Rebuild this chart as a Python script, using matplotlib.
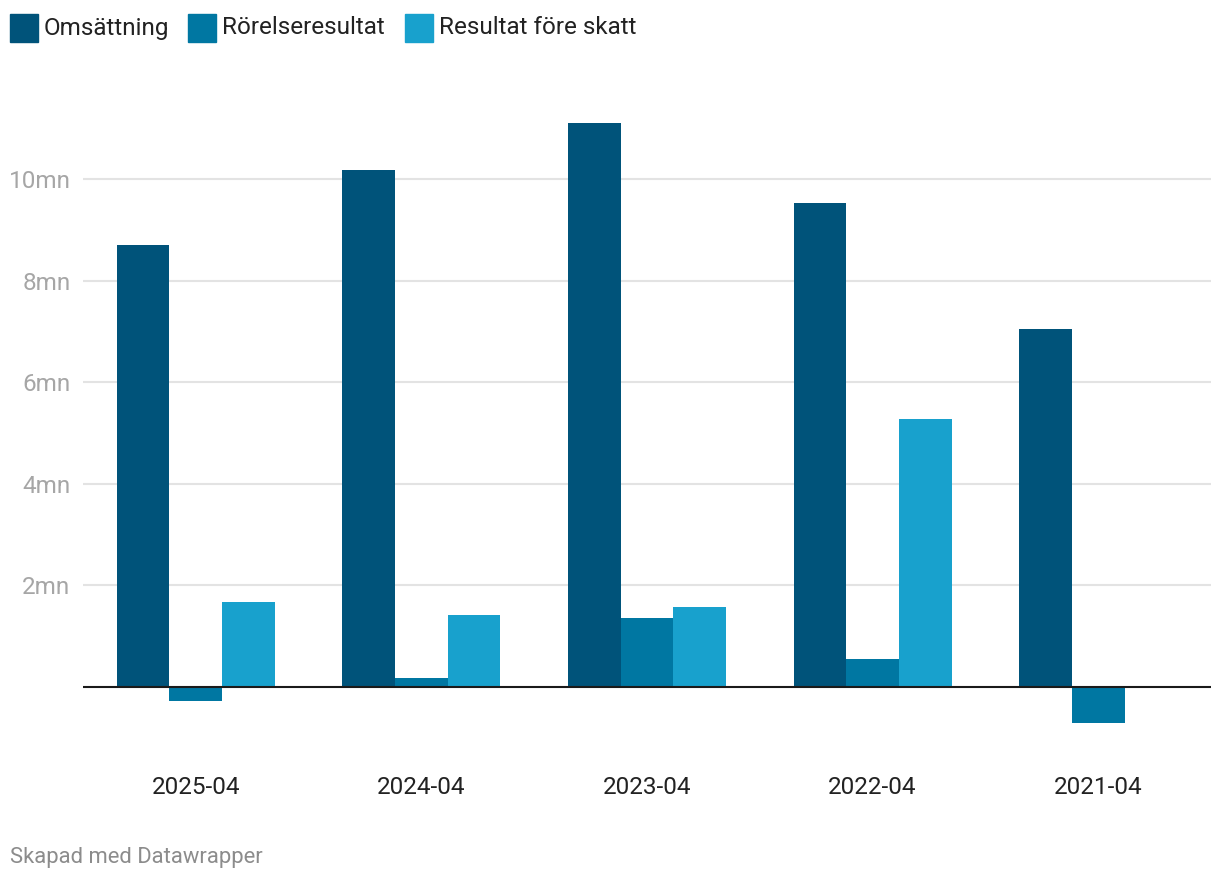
import matplotlib.pyplot as plt
from matplotlib.patches import Rectangle
import numpy as np

plt.rcParams['font.family'] = ['Roboto', 'DejaVu Sans']

# data (millions)
periods = ['2025-04', '2024-04', '2023-04', '2022-04', '2021-04']
omsattning = [8.70, 10.18, 11.10, 9.53, 7.05]
rorelseresultat = [-0.28, 0.18, 1.36, 0.55, -0.71]
resultat_fore_skatt = [1.67, 1.42, 1.57, 5.28, np.nan]
series_names = ['Omsättning', 'Rörelseresultat', 'Resultat före skatt']
colors = ['#00537a', '#0077a2', '#18a1cd']
yticks = [2, 4, 6, 8, 10]

W, H = 1220, 882
fig = plt.figure(figsize=(W / 100, H / 100), dpi=100)

# axes placed in pixel coords: x 83..1211, y 100..750
top_px, bot_px = 100, 750
ax = fig.add_axes([83 / W, 1 - bot_px / H, (1211 - 83) / W, (bot_px - top_px) / H])
zero_px, px_per_mn = 687, 50.8
ax.set_ylim((zero_px - bot_px) / px_per_mn, (zero_px - top_px) / px_per_mn)
ax.set_xlim(-0.5, len(periods) - 0.5)

x = np.arange(len(periods))
bw = 0.7 / 3
for i, vals in enumerate([omsattning, rorelseresultat, resultat_fore_skatt]):
    ax.bar(x + (i - 1) * bw, vals, width=bw, color=colors[i], zorder=2)

for t in yticks:
    ax.axhline(t, color='#e3e3e3', lw=1.5, zorder=1)
ax.axhline(0, color='#1a1a1a', lw=1.5, zorder=3)

ax.set_yticks(yticks)
ax.set_yticklabels([f'{t}mn' for t in yticks])
ax.tick_params(axis='y', length=0, pad=9, labelsize=17.5, labelcolor='#a6a6a6')
ax.set_xticks(x)
ax.set_xticklabels(periods)
ax.tick_params(axis='x', length=0, pad=18.5, labelsize=17.5, labelcolor='#222222')
for s in ax.spines.values():
    s.set_visible(False)

# legend
leg_x = [10, 188, 405]
for lx, name, c in zip(leg_x, series_names, colors):
    fig.patches.append(Rectangle((lx / W, 1 - 42 / H), 28 / W, 28 / H,
                                 transform=fig.transFigure, color=c))
    fig.text((lx + 34) / W, 1 - 28 / H, name, fontsize=17.5, color='#222222',
             va='center', ha='left')

fig.text(10 / W, 1 - 858 / H, 'Skapad med Datawrapper', fontsize=15.8,
         color='#8c8c8c', va='center', ha='left')

fig.savefig('out.png', dpi=100)
